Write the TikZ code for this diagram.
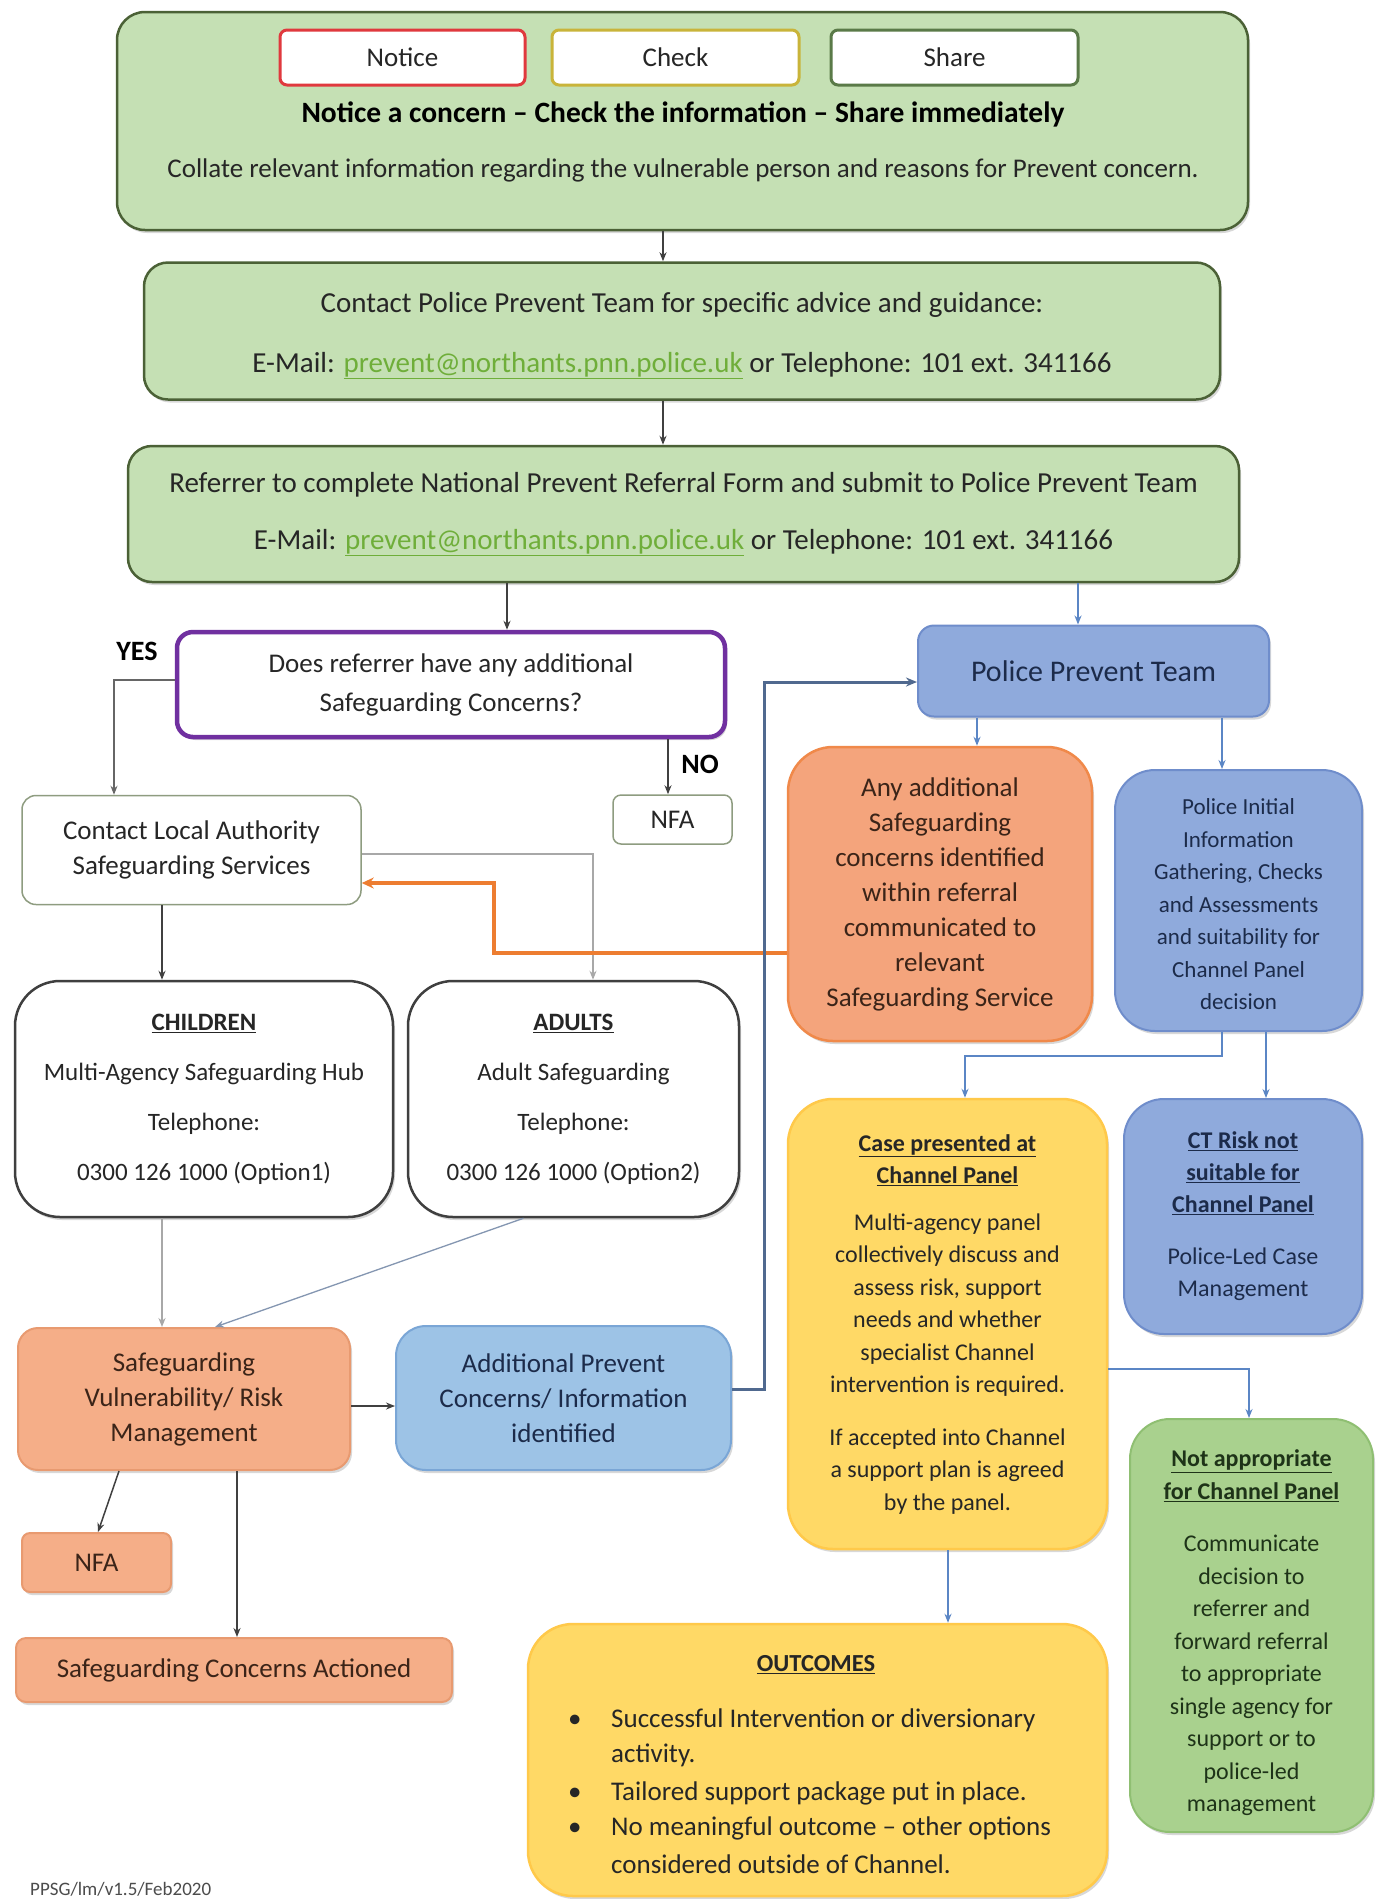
\documentclass[tikz,border=0pt]{standalone}
\usepackage{fontspec}
\setmainfont{Carlito}
\usetikzlibrary{arrows.meta,shadows}
\definecolor{gfill}{HTML}{C5E0B4}
\definecolor{gdraw}{HTML}{4B6136}
\definecolor{nred}{HTML}{E0393E}
\definecolor{cyel}{HTML}{C9B43A}
\definecolor{sgrn}{HTML}{5A7A48}
\definecolor{purp}{HTML}{7030A0}
\definecolor{lgdraw}{HTML}{8E9C80}
\definecolor{dgdraw}{HTML}{3F3F3F}
\definecolor{sfill}{HTML}{F5AE88}
\definecolor{sdraw}{HTML}{E89A70}
\definecolor{ofill}{HTML}{F4A47C}
\definecolor{odraw}{HTML}{F0894A}
\definecolor{bpfill}{HTML}{8FAADC}
\definecolor{bpdraw}{HTML}{6F8DCB}
\definecolor{lbfill}{HTML}{9DC3E6}
\definecolor{lbdraw}{HTML}{7AA6D6}
\definecolor{yfill}{HTML}{FFD966}
\definecolor{ydraw}{HTML}{FFC94A}
\definecolor{ngfill}{HTML}{A9D18E}
\definecolor{ngdraw}{HTML}{8FBF72}
\definecolor{linkg}{HTML}{6FAE3A}
\definecolor{arrdark}{HTML}{404040}
\definecolor{arrblue}{HTML}{5B86C5}
\definecolor{arrbg}{HTML}{50698F}
\definecolor{arrorange}{HTML}{ED7D31}
\definecolor{arrgrey}{HTML}{A8A8A8}
\definecolor{navy}{HTML}{1C2B4A}
\definecolor{brownt}{HTML}{3B2418}
\definecolor{dgreent}{HTML}{1E3318}
\definecolor{txt}{HTML}{262626}
\newcommand{\fs}[2]{\fontsize{#1}{#2}\selectfont}
\newcommand{\ul}[1]{\underline{\textbf{#1}}}
\newcommand{\mail}{\textcolor{linkg}{\underline{prevent@northants.pnn.police.uk}}}
\newcommand{\tall}[1]{\rule{0pt}{#1}}
\begin{document}
\begin{tikzpicture}[x=1pt,y=-1pt,
  shd/.style={drop shadow={shadow xshift=2pt,shadow yshift=-3pt,opacity=0.3}},
  bx/.style={align=center,inner sep=0pt,text=txt},
  greenbox/.style={bx,draw=gdraw,fill=gfill,line width=2.5pt,rounded corners=28pt,shd},
  tagbox/.style={bx,fill=white,line width=3pt,rounded corners=7pt,font=\fs{27}{30}},
  whitebox/.style={bx,draw=lgdraw,fill=white,line width=1.5pt,rounded corners=14pt},
  kidbox/.style={bx,draw=dgdraw,fill=white,line width=2.5pt,rounded corners=45pt,font=\fs{25}{50},shd},
  salbox/.style={bx,draw=sdraw,fill=sfill,line width=2pt,text=brownt,shd},
  bluebox/.style={bx,draw=bpdraw,fill=bpfill,line width=2pt,text=navy,shd},
  yelbox/.style={bx,draw=ydraw,fill=yfill,line width=2.5pt,rounded corners=45pt,shd},
  arr/.style={draw=arrdark,line width=1.5pt,-{Stealth[length=9pt,width=7pt]}},
  barr/.style={draw=arrblue,line width=2pt,-{Stealth[length=9pt,width=7pt]}},
  lab/.style={font=\fs{28}{32}\bfseries,text=black,inner sep=0pt}
]
\useasboundingbox (0,0) rectangle (1379,1899);
\fill[white] (0,0) rectangle (1379,1899);

% top box
\node[greenbox,minimum width=1131pt,minimum height=218pt] (top) at (682.5,121) {};
\node[tagbox,draw=nred,minimum width=245pt,minimum height=55pt] (notice) at (402.5,57.5) {Notice};
\node[tagbox,draw=cyel,minimum width=247pt,minimum height=55pt] (check) at (675.5,57.5) {Check};
\node[tagbox,draw=sgrn,minimum width=247pt,minimum height=55pt] (share) at (954.5,57.5) {Share};
\node[bx,font=\fs{29.5}{34}\bfseries,text=black] (t1) at (683,114.5) {Notice a concern -- Check the information -- Share immediately};
\node[bx,font=\fs{27}{32}] (t2) at (683,170.5) {Collate relevant information regarding the vulnerable person and reasons for Prevent concern.};

\node[greenbox,rounded corners=24pt,minimum width=1076pt,minimum height=137pt,font=\fs{29}{35}] (box2) at (682,331)
 {\tall{29pt}Contact Police Prevent Team for specific advice and guidance:\\[25pt]E-Mail: \mail{} or Telephone: 101 ext. 341166};
\node[greenbox,rounded corners=24pt,minimum width=1111pt,minimum height=136pt,font=\fs{29}{35}] (box3) at (683.5,514)
 {Referrer to complete National Prevent Referral Form and submit to Police Prevent Team\\[22pt]E-Mail: \mail{} or Telephone: 101 ext. 341166};

% question
\node[bx,draw=purp,fill=white,line width=4.5pt,rounded corners=16pt,minimum width=548pt,minimum height=105pt,font=\fs{27}{39},shd] (q) at (451,684.5)
 {Does referrer have any additional\\Safeguarding Concerns?};
\node[lab] (yes) at (137,651) {YES};
\node[lab] (no) at (700,764) {NO};
\node[whitebox,rounded corners=8pt,minimum width=119pt,minimum height=49pt,font=\fs{27}{30}] (nfa1) at (672.5,819.5) {NFA};
\node[whitebox,minimum width=339pt,minimum height=109pt,font=\fs{27}{35}] (la) at (191.5,850) {Contact Local Authority\\Safeguarding Services};

\node[kidbox,minimum width=378pt,minimum height=236pt] (children) at (204,1099)
 {\ul{CHILDREN}\\Multi-Agency Safeguarding Hub\\Telephone:\\0300 126 1000 (Option1)};
\node[kidbox,minimum width=331pt,minimum height=236pt] (adults) at (573.5,1099)
 {\ul{ADULTS}\\Adult Safeguarding\\Telephone:\\0300 126 1000 (Option2)};

\node[salbox,rounded corners=20pt,minimum width=332pt,minimum height=142pt,font=\fs{27}{35}] (svr) at (184,1399)
 {Safeguarding\\Vulnerability/ Risk\\Management};
\node[bluebox,draw=lbdraw,fill=lbfill,rounded corners=30pt,minimum width=335pt,minimum height=144pt,font=\fs{27}{35}] (addl) at (563.5,1398)
 {Additional Prevent\\Concerns/ Information\\identified};
\node[salbox,rounded corners=8pt,minimum width=149pt,minimum height=59pt,font=\fs{27}{30}] (nfa2) at (96.5,1562.5) {NFA};
\node[salbox,rounded corners=10pt,minimum width=436pt,minimum height=64pt,font=\fs{27}{30}] (sca) at (234,1670) {Safeguarding Concerns Actioned};

% right column
\node[bluebox,rounded corners=16pt,minimum width=351pt,minimum height=91pt,font=\fs{30}{34}] (ppt) at (1093.5,671) {Police Prevent Team};
\node[salbox,draw=odraw,fill=ofill,line width=2.5pt,rounded corners=45pt,minimum width=304pt,minimum height=294pt,font=\fs{27}{35}] (any) at (940,894)
 {Any additional\\Safeguarding\\concerns identified\\within referral\\communicated to\\relevant\\Safeguarding Service};
\node[bluebox,rounded corners=40pt,minimum width=247pt,minimum height=261pt,font=\fs{23}{32.5}] (pii) at (1238.5,900.5)
 {\tall{24pt}Police Initial\\Information\\Gathering, Checks\\and Assessments\\and suitability for\\Channel Panel\\decision};
\node[yelbox,minimum width=319pt,minimum height=450pt,font=\fs{24}{32.5}] (case) at (947.5,1324)
 {\ul{Case presented at}\\\ul{Channel Panel}\\[14pt]Multi-agency panel\\collectively discuss and\\assess risk, support\\needs and whether\\specialist Channel\\intervention is required.\\[20pt]If accepted into Channel\\a support plan is agreed\\by the panel.};
\node[bluebox,rounded corners=40pt,minimum width=238pt,minimum height=235pt,font=\fs{24}{32}] (ct) at (1243,1216.5)
 {\ul{CT Risk not}\\\ul{suitable for}\\\ul{Channel Panel}\\[20pt]Police-Led Case\\Management};
\node[bx,draw=ngdraw,fill=ngfill,line width=2pt,rounded corners=40pt,text=dgreent,minimum width=243pt,minimum height=413pt,font=\fs{24}{32.5},shd] (nap) at (1251.5,1625.5)
 {\tall{32pt}\ul{Not appropriate}\\\ul{for Channel Panel}\\[20pt]Communicate\\decision to\\referrer and\\forward referral\\to appropriate\\single agency for\\support or to\\police-led\\management};

% outcomes
\node[yelbox,minimum width=579pt,minimum height=272pt] (out) at (817.5,1760) {};
\node[bx,font=\fs{24.5}{28}] (oh) at (816,1665) {\ul{OUTCOMES}};
\begin{scope}[every node/.style={bx,anchor=west,font=\fs{27}{30}}]
\node (b1) at (568,1721) {•};
\node (o1) at (611,1721) {\strut Successful Intervention or diversionary};
\node (o1b) at (611,1756) {\strut activity.};
\node (b2) at (568,1794) {•};
\node (o2) at (611,1794) {\strut Tailored support package put in place.};
\node (b3) at (568,1829) {•};
\node (o3) at (611,1829) {\strut No meaningful outcome -- other options};
\node (o3b) at (611,1867) {\strut considered outside of Channel.};
\end{scope}
\node[bx,anchor=west,font=\fs{19}{21},text=black!70] (foot) at (30,1889) {PPSG/lm/v1.5/Feb2020};

% connectors
\coordinate (cx1) at (663,0);
\draw[arr] (top.south -| cx1) -- (box2.north -| cx1);
\draw[arr] (box2.south -| cx1) -- (box3.north -| cx1);
\draw[arr] (box3.south -| 507,0) -- (q.north -| 507,0);
\draw[barr] (box3.south -| 1078,0) -- (ppt.north -| 1078,0);
\draw[arr,line width=1.2pt,draw=arrdark!80] (q.west |- 0,680) -| (la.north -| 114,0);
\draw[arr] (q.south -| 668,0) -- (nfa1.north -| 668,0);
\draw[arr] (la.south -| 162,0) -- (children.north -| 162,0);
\draw[arr,draw=arrgrey,line width=1.3pt] (la.east |- 0,854) -| (adults.north -| 593,0);
\draw[draw=arrorange,line width=4.5pt,-{Stealth[length=12pt,width=11pt]}] (any.west |- 0,953) -- (494,953) -- (494,883) -- (la.east |- 0,883);
\draw[arr,draw=arrgrey,line width=2.5pt] (children.south -| 162,0) -- (svr.north -| 162,0);
\draw[arr,draw=arrbg!70,line width=1.3pt] ([xshift=-50pt]adults.south) -- ([xshift=31pt]svr.north);
\draw[arr] (svr.east |- 0,1406) -- (addl.west |- 0,1406);
\draw[draw=arrbg,line width=3pt,-{Stealth[length=11pt,width=9pt]}] (addl.east |- 0,1389) -- (764,1389) -- (764,682) -- (ppt.west |- 0,682);
\draw[barr] (ppt.south -| 977,0) -- (any.north -| 977,0);
\draw[barr] (ppt.south -| 1222,0) -- (pii.north -| 1222,0);
\draw[barr] (pii.south -| 1222,0) -- (1222,1056) -- (965,1056) -- (case.north -| 965,0);
\draw[barr] (pii.south -| 1266,0) -- (ct.north -| 1266,0);
\draw[barr] (case.east |- 0,1369) -| (nap.north -| 1249,0);
\draw[barr] (case.south -| 948,0) -- (out.north -| 948,0);
\draw[arr] ([xshift=-65pt]svr.south) -- ([xshift=1.5pt]nfa2.north);
\draw[arr] (svr.south -| 237,0) -- (sca.north -| 237,0);
\end{tikzpicture}
\end{document}
